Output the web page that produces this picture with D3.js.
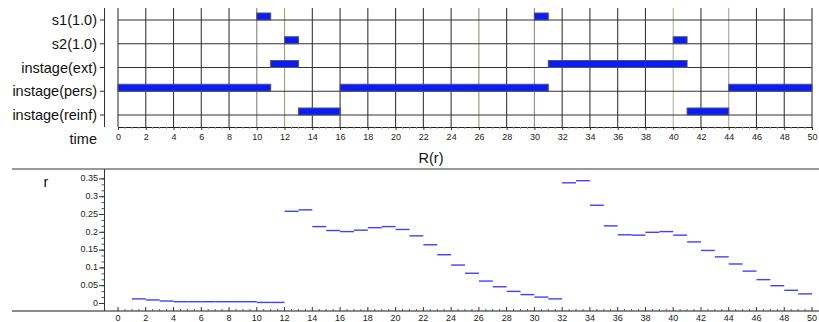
<!DOCTYPE html>
<html><head><meta charset="utf-8">
<script src="https://cdn.jsdelivr.net/npm/d3@7"></script>
<style>
html,body{margin:0;padding:0;background:#fff;}
svg{display:block;font-family:"Liberation Sans",Arial,sans-serif;}
</style></head>
<body>
<svg id="chart" width="819" height="322"></svg>
<script>
// ---------- data ----------
const rowLabels = ["s1(1.0)", "s2(1.0)", "instage(ext)", "instage(pers)", "instage(reinf)"];
const barRow   = ["s1(1.0)", "s1(1.0)", "s2(1.0)", "s2(1.0)", "instage(ext)", "instage(ext)",
                  "instage(pers)", "instage(pers)", "instage(pers)", "instage(reinf)", "instage(reinf)"];
const barStart = [10, 30, 12, 40, 11, 31, 0, 16, 44, 13, 41];
const barEnd   = [11, 31, 13, 41, 13, 41, 11, 31, 50, 16, 44];
const timeTicks = [0,2,4,6,8,10,12,14,16,18,20,22,24,26,28,30,32,34,36,38,40,42,44,46,48,50];
const rTicks = [0, 0.05, 0.1, 0.15, 0.2, 0.25, 0.3, 0.35];
const rTickLabels = ["0", "0.05", "0.1", "0.15", "0.2", "0.25", "0.3", "0.35"];
const segStart = [1,2,3,4,5,6,7,8,9,10,11,12,13,14,15,16,17,18,19,20,21,22,23,24,25,
                  26,27,28,29,30,31,32,33,34,35,36,37,38,39,40,41,42,43,44,45,46,47,48,49];
const rValues = [0.013,0.010,0.007,0.005,0.005,0.005,0.005,0.005,0.005,0.003,0.003,
                 0.259,0.263,0.216,0.205,0.202,0.206,0.213,0.216,0.208,0.190,0.165,0.137,0.108,
                 0.085,0.063,0.047,0.034,0.025,0.018,0.013,
                 0.339,0.345,0.276,0.218,0.193,0.192,0.200,0.202,0.192,0.173,0.149,0.131,0.111,
                 0.091,0.067,0.050,0.037,0.027];

// ---------- styles ----------
const gridTint = {10:"#808080", 12:"#a29f78", 26:"#96937c", 30:"#9a8a90", 40:"#a8bc96", 44:"#bc98a0"};
const gridDefault = "#383838";

const svg = d3.select("#chart");
const x = d3.scaleLinear().domain([0, 50]).range([118, 812]);

// ---------- top timeline chart ----------
const gTop = svg.append("g");
const y1 = d3.scalePoint().domain(rowLabels).range([20, 115]);
const axisY = 127;

gTop.selectAll("line.vgrid").data(timeTicks).join("line")
  .attr("x1", d => x(d)).attr("x2", d => x(d))
  .attr("y1", 8).attr("y2", axisY)
  .attr("stroke", d => gridTint[d] || gridDefault).attr("stroke-width", 1.1);

gTop.selectAll("line.row").data(rowLabels).join("line")
  .attr("x1", x(0)).attr("x2", x(50))
  .attr("y1", d => y1(d)).attr("y2", d => y1(d))
  .attr("stroke", "#333").attr("stroke-width", 1);

gTop.append("line").attr("x1", 104.5).attr("x2", 104.5).attr("y1", 8).attr("y2", axisY)
  .attr("stroke", "#333");
gTop.selectAll("line.ltick").data(rowLabels).join("line")
  .attr("x1", 100).attr("x2", 104.5)
  .attr("y1", d => y1(d)).attr("y2", d => y1(d)).attr("stroke", "#333");
gTop.selectAll("text.rowlab").data(rowLabels).join("text")
  .attr("x", 97).attr("y", d => y1(d)).attr("dy", "0.36em")
  .attr("text-anchor", "end").attr("font-size", "14.5px").attr("fill", "#111")
  .text(d => d);
gTop.append("text").attr("x", 97).attr("y", 139).attr("dy", "0.36em")
  .attr("text-anchor", "end").attr("font-size", "14.5px").attr("fill", "#111").text("time");

gTop.selectAll("rect.bar").data(barStart.map((s, i) => ({s, e: barEnd[i], r: barRow[i]}))).join("rect")
  .attr("x", d => x(d.s)).attr("width", d => x(d.e) - x(d.s))
  .attr("y", d => y1(d.r) - 7).attr("height", 7)
  .attr("fill", "#0a1cff").attr("stroke", "#555").attr("stroke-width", 1);

const tAxis = d3.axisBottom(x).tickValues(timeTicks).tickSize(3).tickPadding(4).tickFormat(d3.format("d"));
const tg = gTop.append("g").attr("transform", `translate(0,${axisY})`).call(tAxis);
tg.select(".domain").attr("stroke", "#222");
tg.selectAll(".tick line").attr("stroke", "#333");
tg.selectAll(".tick text").attr("font-size", "9px").attr("fill", "#222")
  .attr("font-family", "'Liberation Sans',Arial,sans-serif");
const halfTicks = d3.range(0, 50.01, 0.5).filter(v => v % 2 !== 0);
gTop.selectAll("line.mtick").data(halfTicks).join("line")
  .attr("x1", d => x(d)).attr("x2", d => x(d))
  .attr("y1", axisY).attr("y2", axisY + 2).attr("stroke", "#b59a6a");

// ---------- bottom R(r) chart ----------
const gBot = svg.append("g");
const y2 = d3.scaleLinear().domain([0, 0.35]).range([303.5, 178.9]);
const frameTop = 169, frameBot = 311;

gBot.append("text").attr("x", 431).attr("y", 158).attr("dy", "0.36em")
  .attr("text-anchor", "middle").attr("font-size", "14.5px").attr("fill", "#111").text("R(r)");
gBot.append("line").attr("x1", 12).attr("x2", 819).attr("y1", frameTop).attr("y2", frameTop)
  .attr("stroke", "#777").attr("stroke-width", 1.5);
gBot.append("line").attr("x1", 12).attr("x2", 819).attr("y1", frameBot).attr("y2", frameBot)
  .attr("stroke", "#666").attr("stroke-width", 1.5);
gBot.append("line").attr("x1", 104.5).attr("x2", 104.5).attr("y1", frameTop).attr("y2", frameBot)
  .attr("stroke", "#333");
gBot.append("text").attr("x", 46).attr("y", 182).attr("dy", "0.36em")
  .attr("text-anchor", "middle").attr("font-size", "14.5px").attr("fill", "#111").text("r");

const rMinor = d3.range(0, 0.3501, 0.05 / 3);
gBot.selectAll("line.rminor").data(rMinor).join("line")
  .attr("x1", 101.5).attr("x2", 104.5)
  .attr("y1", d => y2(d)).attr("y2", d => y2(d)).attr("stroke", "#555");
gBot.selectAll("line.rmajor").data(rTicks).join("line")
  .attr("x1", 99).attr("x2", 104.5)
  .attr("y1", d => y2(d)).attr("y2", d => y2(d)).attr("stroke", "#333");
gBot.selectAll("text.rlab").data(rTicks).join("text")
  .attr("x", 98).attr("y", d => y2(d) - 1).attr("dy", "0.36em")
  .attr("text-anchor", "end").attr("font-size", "9px").attr("fill", "#222")
  .text((d, i) => rTickLabels[i]);

gBot.selectAll("line.xmajor").data(timeTicks).join("line")
  .attr("x1", d => x(d)).attr("x2", d => x(d))
  .attr("y1", frameBot - 4).attr("y2", frameBot).attr("stroke", "#333");
gBot.selectAll("line.xminor").data(halfTicks).join("line")
  .attr("x1", d => x(d)).attr("x2", d => x(d))
  .attr("y1", frameBot - 2).attr("y2", frameBot).attr("stroke", "#555");
gBot.selectAll("text.xlab").data(timeTicks).join("text")
  .attr("x", d => x(d)).attr("y", 318).attr("dy", "0.36em")
  .attr("text-anchor", "middle").attr("font-size", "9px").attr("fill", "#222")
  .text(d => d);

gBot.selectAll("line.seg").data(segStart.map((s, i) => ({s, v: rValues[i]}))).join("line")
  .attr("x1", d => x(d.s)).attr("x2", d => x(d.s + 1))
  .attr("y1", d => y2(d.v)).attr("y2", d => y2(d.v))
  .attr("stroke", "#4040ff").attr("stroke-width", 1.4);
</script>
</body></html>
